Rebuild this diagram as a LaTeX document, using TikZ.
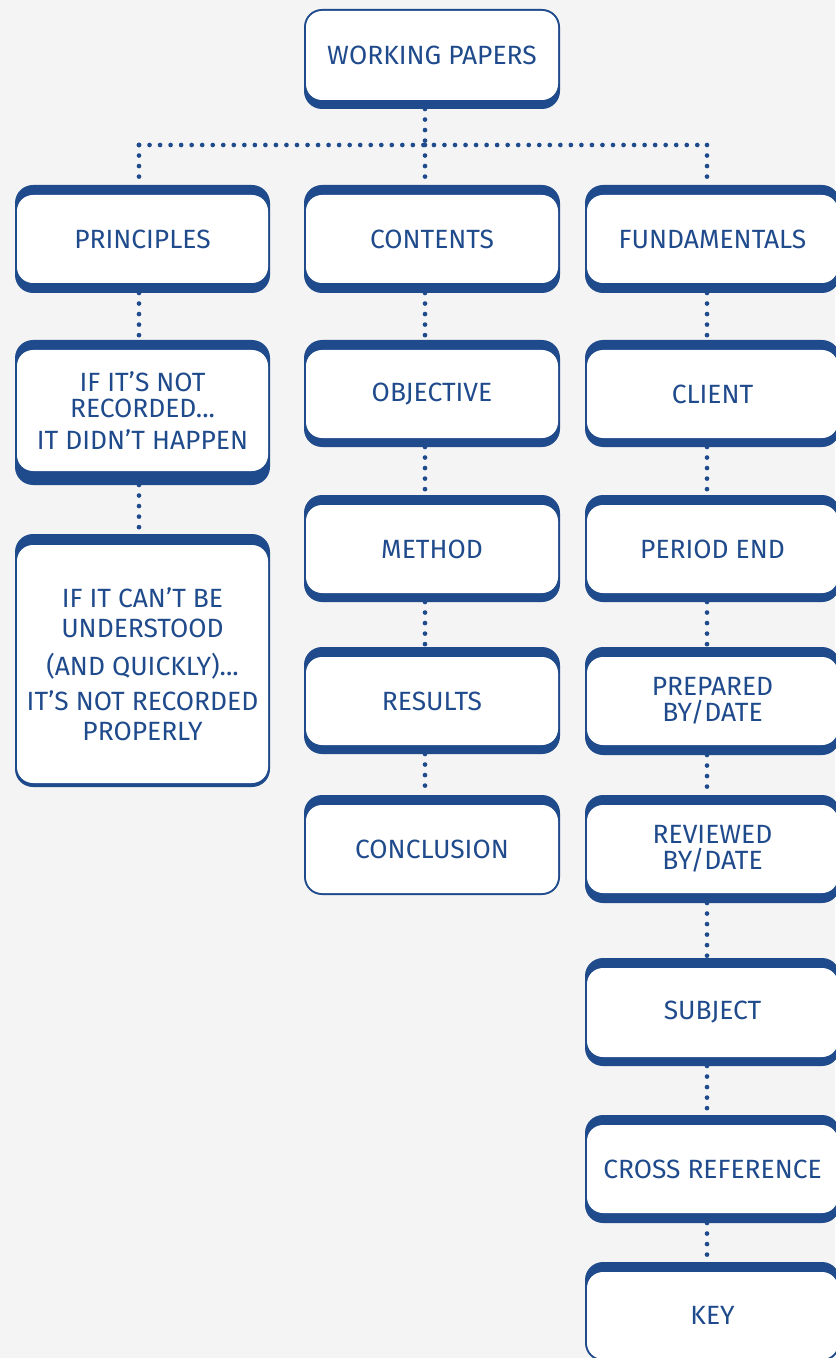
\documentclass[tikz,border=0pt]{standalone}
\usepackage{fontspec}
\setmainfont{Fira Sans}
\usetikzlibrary{fit}
\definecolor{wpblue}{RGB}{31,74,139}
\definecolor{wpbg}{RGB}{244,244,244}
\tikzset{
  boxshape/.style={inner sep=0pt, outer sep=0pt},
  wptext/.style={text=wpblue, align=center, inner sep=0pt, font=\fontsize{19.8}{19.5}\selectfont},
  dotline/.style={wpblue, line width=3.5pt, line cap=round, dash pattern=on 0pt off 7.9pt},
}
% name, x1, x2, outer top, white top, white bottom, outer bottom, text
\newcommand\wpbox[8]{%
  \fill[wpblue, rounded corners=13.5pt] (#2,#4) rectangle (#3,#7);
  \fill[white, rounded corners=12pt] (#2+2,#5) rectangle (#3-2,#6);
  \node[boxshape, fit={(#2,#4) (#3,#7)}] (#1) {};
  \node[wptext] (#1-t) at ({(#2+#3)/2},{(#5+#6)/2}) {#8};
}
\begin{document}
\begin{tikzpicture}[x=0.75pt,y=-0.75pt]
\fill[wpbg] (0,0) rectangle (835,1358);
\useasboundingbox (0,0) rectangle (835,1358);
\coordinate (cl) at (139,145);
\coordinate (cm) at (425,145);
\coordinate (cr) at (707,145);

\wpbox{wp}{304}{560}{9}{11}{100}{109}{WORKING PAPERS}

\wpbox{pr}{15}{270}{185}{195}{283}{293}{PRINCIPLES}
\wpbox{ct}{304}{560}{185}{195}{283}{293}{CONTENTS}
\wpbox{fu}{585}{840}{185}{195}{283}{293}{FUNDAMENTALS}

\wpbox{p1}{15}{270}{340}{350}{471}{485}{IF IT’S NOT\\RECORDED...\\[4.5pt]IT DIDN’T HAPPEN}
\wpbox{p2}{15}{270}{534}{545}{783}{787}{IF IT CAN’T BE\\[3pt]UNDERSTOOD\\[9pt](AND QUICKLY)...\\[6.5pt]IT’S NOT RECORDED\\[3pt]PROPERLY}

\wpbox{ob}{304}{560}{340}{350}{438}{447}{OBJECTIVE}
\wpbox{me}{304}{560}{495}{505}{593}{602}{METHOD}
\wpbox{re}{304}{560}{647}{657}{745}{754}{RESULTS}
\wpbox{co}{304}{560}{795}{805}{893}{895}{CONCLUSION}

\wpbox{cli}{585}{840}{340}{350}{438}{447}{CLIENT}
\wpbox{pe}{585}{840}{495}{505}{593}{602}{PERIOD END}
\wpbox{pb}{585}{840}{647}{657}{745}{755}{PREPARED\\BY/DATE}
\wpbox{rb}{585}{840}{795}{805}{893}{903}{REVIEWED\\BY/DATE}
\wpbox{su}{585}{840}{958}{968}{1057}{1066}{SUBJECT}
\wpbox{cx}{585}{840}{1115}{1125}{1213}{1223}{CROSS REFERENCE}
\wpbox{ke}{585}{840}{1262}{1272}{1359}{1361}{KEY}

% connectors
\draw[dotline] (wp.south -| cm) -- (cm);
\draw[dotline] (cl) -- (cr);
\draw[dotline] (cl) -- (pr.north -| cl);
\draw[dotline] (cm) -- (ct.north -| cm);
\draw[dotline] (cr) -- (fu.north -| cr);

\draw[dotline] (pr.south -| cl) -- (p1.north -| cl);
\draw[dotline] (p1.south -| cl) -- (p2.north -| cl);

\draw[dotline] (ct.south -| cm) -- (ob.north -| cm);
\draw[dotline] (ob.south -| cm) -- (me.north -| cm);
\draw[dotline] (me.south -| cm) -- (re.north -| cm);
\draw[dotline] (re.south -| cm) -- (co.north -| cm);

\draw[dotline] (fu.south -| cr) -- (cli.north -| cr);
\draw[dotline] (cli.south -| cr) -- (pe.north -| cr);
\draw[dotline] (pe.south -| cr) -- (pb.north -| cr);
\draw[dotline] (pb.south -| cr) -- (rb.north -| cr);
\draw[dotline] (rb.south -| cr) -- (su.north -| cr);
\draw[dotline] (su.south -| cr) -- (cx.north -| cr);
\draw[dotline] (cx.south -| cr) -- (ke.north -| cr);
\end{tikzpicture}
\end{document}
